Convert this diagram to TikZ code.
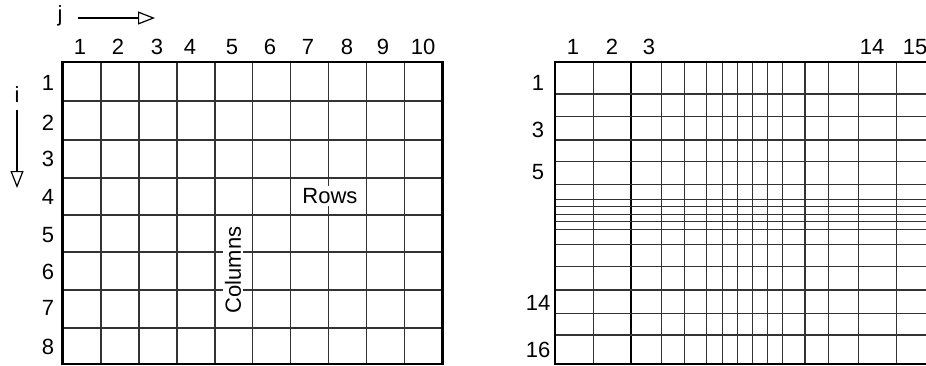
\documentclass[tikz,border=0pt]{standalone}
\usepackage{fontspec}
\setmainfont{Liberation Sans}
\usetikzlibrary{arrows.meta,positioning}

\begin{document}
\begin{tikzpicture}[x=1pt,y=-1pt,
  gridline/.style={draw=black!80,line width=1.2pt},
  frame/.style={draw=black,line width=2.6pt},
  idx/.style={font=\fontsize{22}{26}\selectfont,inner sep=0pt},
  tag/.style={font=\fontsize{22}{26}\selectfont,fill=white,inner sep=2pt},
  axis/.style={line width=1.2pt,-{Triangle[open,length=17pt,width=13pt,line width=1.2pt]}}]
  \useasboundingbox (0,0) rectangle (926,365);
  \clip (0,0) rectangle (926,365);

  % left grid: uniform 10 x 8
  \foreach \x in {101,139,177,215,252.7,290.7,328.7,366.7,404.7}
    \draw[gridline] (\x,62) -- (\x,364);
  \foreach \y in {101,140,178,215,252,290,328}
    \draw[gridline] (62.7,\y) -- (442.7,\y);
  \draw[frame] (62.7,62) rectangle (442.7,364);

  \foreach \x/\n in {80/1,118/2,157/3,190/4,232/5,270/6,308/7,347/8,383/9,423/10}
    \node[idx] (lc\n) at (\x,47) {\n};
  \foreach \y/\n in {83/1,123/2,159/3,197/4,235/5,272/6,308/7,347/8}
    \node[idx] (lr\n) at (48,\y) {\n};

  \node[tag] (rows) at (330,196) {Rows};
  \node[tag,rotate=90] (cols) at (233,270) {Columns};

  % index arrows
  \node[idx] (jlab) at (60,16) {j};
  \coordinate (jtail) at (78,18);
  \coordinate (jtip) at (155,18);
  \draw[axis] (jtail) -- (jtip);
  \node[idx] (ilab) at (17,95) {i};
  \coordinate (itail) at (17,110);
  \coordinate (itip) at (17,188);
  \draw[axis] (itail) -- (itip);

  % right grid: refined towards the middle
  \foreach \x in {593.3,661.7,684.3,706.7,722.3,737.3,752.3,767.3,782.7,805,828.3,858.3,896.3}
    \draw[gridline] (\x,62) -- (\x,364);
  \draw[gridline,draw=black] (631,62) -- (631,364);
  \foreach \y in {94,116.7,140,161.7,184.3,199.3,206.7,214.3,221.7,229.3,244.3,266.7,290,313.3,335}
    \draw[gridline] (555,\y) -- (934,\y);
  \draw[frame] (555,62) rectangle (934,364);

  \foreach \x/\n in {573/1,612/2,649/3,872/14,915/15}
    \node[idx] (rc\n) at (\x,47) {\n};
  \foreach \y/\n in {83/1,130/3,172/5,303/14,350/16}
    \node[idx] (rr\n) at (538,\y) {\n};
\end{tikzpicture}
\end{document}
